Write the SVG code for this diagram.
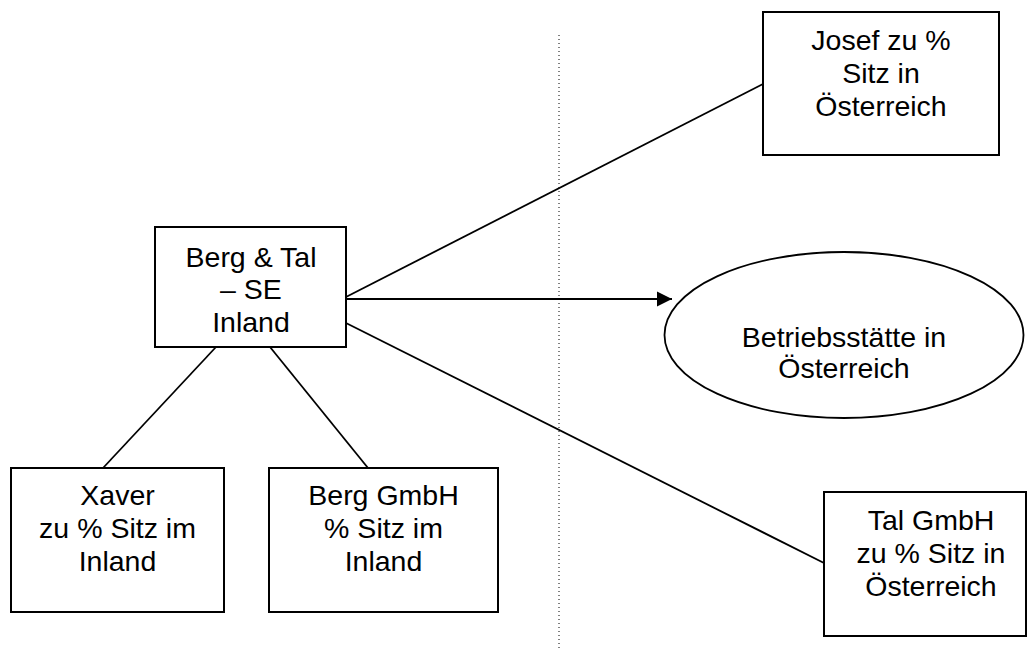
<svg xmlns="http://www.w3.org/2000/svg" width="1028" height="650" viewBox="0 0 1028 650">
<style>
.box{fill:#fff;stroke:#000;stroke-width:2}
.ell{fill:#fff;stroke:#000;stroke-width:1.8}
.con{stroke:#000;stroke-width:1.8;fill:none}
text{font-family:"Liberation Sans",Arial,sans-serif;font-size:28.5px;fill:#000;text-anchor:middle}
</style>
<defs>
<marker id="arr" markerUnits="userSpaceOnUse" markerWidth="16" markerHeight="16" refX="15" refY="8" orient="auto">
<path d="M0,0.5 L15,8 L0,15.5 Z" fill="#000"/>
</marker>
</defs>
<rect width="1028" height="650" fill="#fff"/>
<line x1="559" y1="35" x2="559" y2="650" stroke="#000" stroke-width="1" stroke-dasharray="1 3"/>
<g id="connectors">
<line class="con" x1="346" y1="297" x2="763" y2="84"/>
<line class="con" x1="346" y1="299" x2="672" y2="299" marker-end="url(#arr)"/>
<line class="con" x1="346" y1="323" x2="824" y2="563"/>
<line class="con" x1="216" y1="347" x2="103" y2="468"/>
<line class="con" x1="270" y1="347" x2="368" y2="468"/>
</g>
<g id="bergtal">
<rect class="box" x="155" y="227" width="191" height="120"/>
<text x="251" y="266.5">Berg &amp; Tal</text>
<text x="251" y="299">– SE</text>
<text x="251" y="331.5">Inland</text>
</g>
<g id="josef">
<rect class="box" x="763" y="12" width="236" height="143"/>
<text x="881" y="50">Josef zu %</text>
<text x="881" y="83">Sitz in</text>
<text x="881" y="115.5">Österreich</text>
</g>
<g id="betriebsstaette">
<ellipse class="ell" cx="844" cy="335" rx="179.5" ry="83"/>
<text x="844" y="347">Betriebsstätte in</text>
<text x="844" y="378">Österreich</text>
</g>
<g id="xaver">
<rect class="box" x="11" y="468" width="213" height="144"/>
<text x="117.5" y="505">Xaver</text>
<text x="117.5" y="538">zu % Sitz im</text>
<text x="117.5" y="571">Inland</text>
</g>
<g id="berggmbh">
<rect class="box" x="269" y="468" width="229" height="144"/>
<text x="383.5" y="505">Berg GmbH</text>
<text x="383.5" y="538">% Sitz im</text>
<text x="383.5" y="571">Inland</text>
</g>
<g id="talgmbh">
<rect class="box" x="824" y="492" width="202" height="144"/>
<text x="931" y="530">Tal GmbH</text>
<text x="931" y="563">zu % Sitz in</text>
<text x="931" y="596">Österreich</text>
</g>
</svg>
